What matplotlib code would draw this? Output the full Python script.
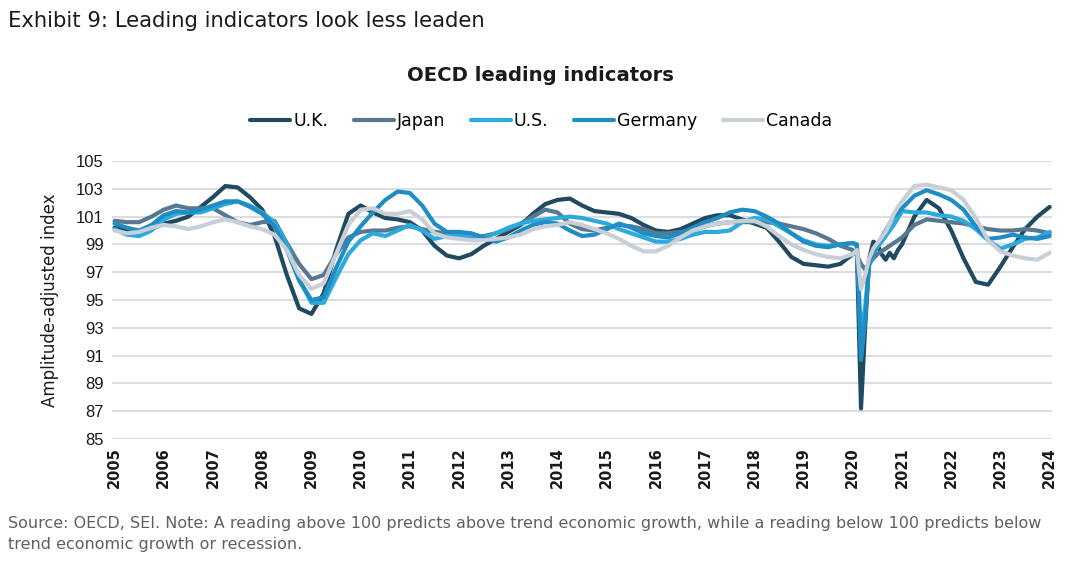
import numpy as np
import matplotlib
matplotlib.use("Agg")
import matplotlib.pyplot as plt

# ------------------------------
# Data: quarterly, monthly during 2020
# ------------------------------
dates = np.concatenate([np.arange(2005, 2020, 0.25),
                        2020 + np.arange(12) / 12,
                        np.arange(2021, 2024.01, 0.25)])

uk = [100.2, 100.0, 99.9, 100.1, 100.5, 100.7, 101.0, 101.7,
      102.4, 103.2, 103.1, 102.4, 101.5, 99.6, 96.8, 94.4,
      94.0, 95.5, 98.6, 101.2, 101.8, 101.3, 100.9, 100.8,
      100.6, 100.0, 98.9, 98.2, 98.0, 98.3, 98.9, 99.4,
      99.9, 100.4, 101.2, 101.9, 102.2, 102.3, 101.8, 101.4,
      101.3, 101.2, 100.9, 100.4, 100.0, 99.9, 100.1, 100.5,
      100.9, 101.1, 101.1, 100.8, 100.5, 100.2, 99.2, 98.1,
      97.6, 97.5, 97.4, 97.6,
      98.3, 98.5, 87.2, 93.0, 98.0, 99.2, 99.0, 98.3, 97.9, 98.4, 98.0, 98.6,
      99.0, 101.0, 102.2, 101.6, 100.0, 98.0, 96.3, 96.1, 97.4, 98.8, 100.1, 101.0, 101.7]

japan = [100.7, 100.6, 100.6, 101.0, 101.5, 101.8, 101.6, 101.6,
         101.6, 101.1, 100.6, 100.4, 100.6, 100.7, 99.1, 97.6,
         96.5, 96.8, 98.3, 99.5, 99.9, 100.0, 100.0, 100.2,
         100.3, 100.1, 99.9, 99.8, 99.7, 99.5, 99.6, 99.8,
         100.1, 100.5, 101.0, 101.5, 101.3, 100.5, 100.1, 100.0,
         100.2, 100.4, 100.3, 100.1, 99.8, 99.8, 99.9, 100.0,
         100.3, 100.5, 100.6, 100.6, 100.6, 100.6, 100.5, 100.3,
         100.1, 99.8, 99.4, 98.9,
         98.6, 98.2, 97.6, 97.2, 97.6, 98.0, 98.3, 98.5, 98.7, 98.9, 99.1, 99.3,
         99.5, 100.4, 100.8, 100.7, 100.6, 100.5, 100.3, 100.1, 100.0, 100.0, 100.1, 100.0, 99.8]

us = [100.1, 99.7, 99.6, 100.0, 100.8, 101.2, 101.3, 101.3,
      101.6, 101.9, 102.1, 101.8, 101.3, 100.6, 99.0, 96.5,
      94.8, 94.8, 96.6, 98.3, 99.3, 99.8, 99.6, 100.0,
      100.4, 100.0, 99.4, 99.6, 99.7, 99.6, 99.5, 99.8,
      100.2, 100.5, 100.7, 100.8, 100.9, 101.0, 100.9, 100.7,
      100.5, 100.1, 99.8, 99.5, 99.2, 99.2, 99.4, 99.7,
      99.9, 99.9, 100.0, 100.6, 100.9, 100.8, 100.3, 99.8,
      99.3, 99.0, 98.9, 99.0,
      99.1, 98.9, 92.5, 94.5, 97.5, 98.3, 98.8, 99.2, 99.6, 100.0, 100.4, 100.9,
      101.4, 101.3, 101.3, 101.1, 101.0, 100.7, 100.1, 99.3, 98.7, 99.0, 99.4, 99.5, 99.9]

germany = [100.5, 100.2, 100.0, 100.4, 101.1, 101.4, 101.3, 101.5,
           101.8, 102.1, 102.1, 101.7, 101.2, 100.3, 98.6, 96.4,
           95.0, 95.2, 97.3, 99.2, 100.3, 101.3, 102.2, 102.8,
           102.7, 101.8, 100.5, 99.9, 99.9, 99.8, 99.5, 99.2,
           99.5, 100.0, 100.4, 100.6, 100.5, 100.0, 99.6, 99.7,
           100.1, 100.5, 100.2, 99.8, 99.6, 99.5, 99.8, 100.2,
           100.6, 100.9, 101.3, 101.5, 101.4, 101.0, 100.5, 99.8,
           99.2, 98.9, 98.8, 99.0,
           99.1, 99.0, 90.7, 93.5, 97.7, 98.4, 99.0, 99.5, 100.0, 100.5, 101.0, 101.3,
           101.6, 102.5, 102.9, 102.6, 102.2, 101.5, 100.3, 99.4, 99.5, 99.7, 99.5, 99.4, 99.6]

canada = [100.0, 99.8, 99.9, 100.2, 100.4, 100.3, 100.1, 100.3,
          100.6, 100.8, 100.6, 100.3, 100.1, 99.7, 98.6, 96.8,
          95.8, 96.2, 98.3, 100.4, 101.5, 101.6, 101.2, 101.2,
          101.4, 100.8, 99.8, 99.5, 99.4, 99.3, 99.3, 99.4,
          99.5, 99.7, 100.1, 100.3, 100.4, 100.6, 100.4, 100.1,
          99.8, 99.4, 98.9, 98.5, 98.5, 98.9, 99.5, 100.0,
          100.3, 100.5, 100.6, 100.7, 100.7, 100.3, 99.6, 99.0,
          98.6, 98.3, 98.1, 98.0,
          98.3, 98.6, 95.8, 96.8, 98.0, 98.7, 99.1, 99.5, 99.9, 100.5, 101.2, 101.7,
          102.1, 103.2, 103.3, 103.1, 102.9, 102.2, 100.9, 99.3, 98.5, 98.2, 98.0, 97.9, 98.4]

series = [("U.K.", uk, "#1f4a5f"),
          ("Japan", japan, "#587891"),
          ("U.S.", us, "#2aaadd"),
          ("Germany", germany, "#1f8dc3"),
          ("Canada", canada, "#c8cfd6")]

years = list(range(2005, 2025))
yticks = list(range(85, 106, 2))

# ------------------------------
# Plot
# ------------------------------
fig = plt.figure(figsize=(10.78, 5.65), dpi=100)
ax = fig.add_axes([0.104, 0.223, 0.872, 0.492])

for name, vals, col in series:
    ax.plot(dates, vals, color=col, lw=3, label=name, solid_joinstyle="round",
            solid_capstyle="round", zorder=3)

ax.set_xlim(2004.95, 2024.05)
ax.set_ylim(85, 105)
ax.set_yticks(yticks)
ax.set_xticks(years)
ax.set_xticklabels([str(y) for y in years], rotation=90, fontsize=10.5,
                   fontweight="bold", color="#1a1a1a")
for lab in ax.get_yticklabels():
    lab.set_family(["Liberation Sans Narrow", "Liberation Sans"])
    lab.set_fontsize(12)
    lab.set_color("#1a1a1a")
ax.tick_params(length=0, pad=6)
ax.grid(axis="y", color="#dcdce3", lw=1.5, zorder=0)
for s in ax.spines.values():
    s.set_visible(False)

ax.set_ylabel("Amplitude-adjusted index", fontsize=12, color="#1a1a1a", labelpad=12)

fig.text(0.007, 0.962, "Exhibit 9: Leading indicators look less leaden",
         fontsize=15.2, color="#1a1a1a", va="center", ha="left")
fig.text(0.501, 0.866, "OECD leading indicators", fontsize=14.1, fontweight="bold",
         color="#1a1a1a", ha="center", va="center")

fig.legend(loc="center", bbox_to_anchor=(0.502, 0.786), ncol=5, frameon=False,
           fontsize=12.5, handlelength=2.3, handletextpad=0.15, columnspacing=1.5)

fig.text(0.007, 0.055, "Source: OECD, SEI. Note: A reading above 100 predicts above trend economic growth, "
         "while a reading below 100 predicts below\ntrend economic growth or recession.",
         fontsize=11.5, color="#606060", ha="left", va="center", linespacing=1.5)

fig.savefig("out.png", dpi=100)
